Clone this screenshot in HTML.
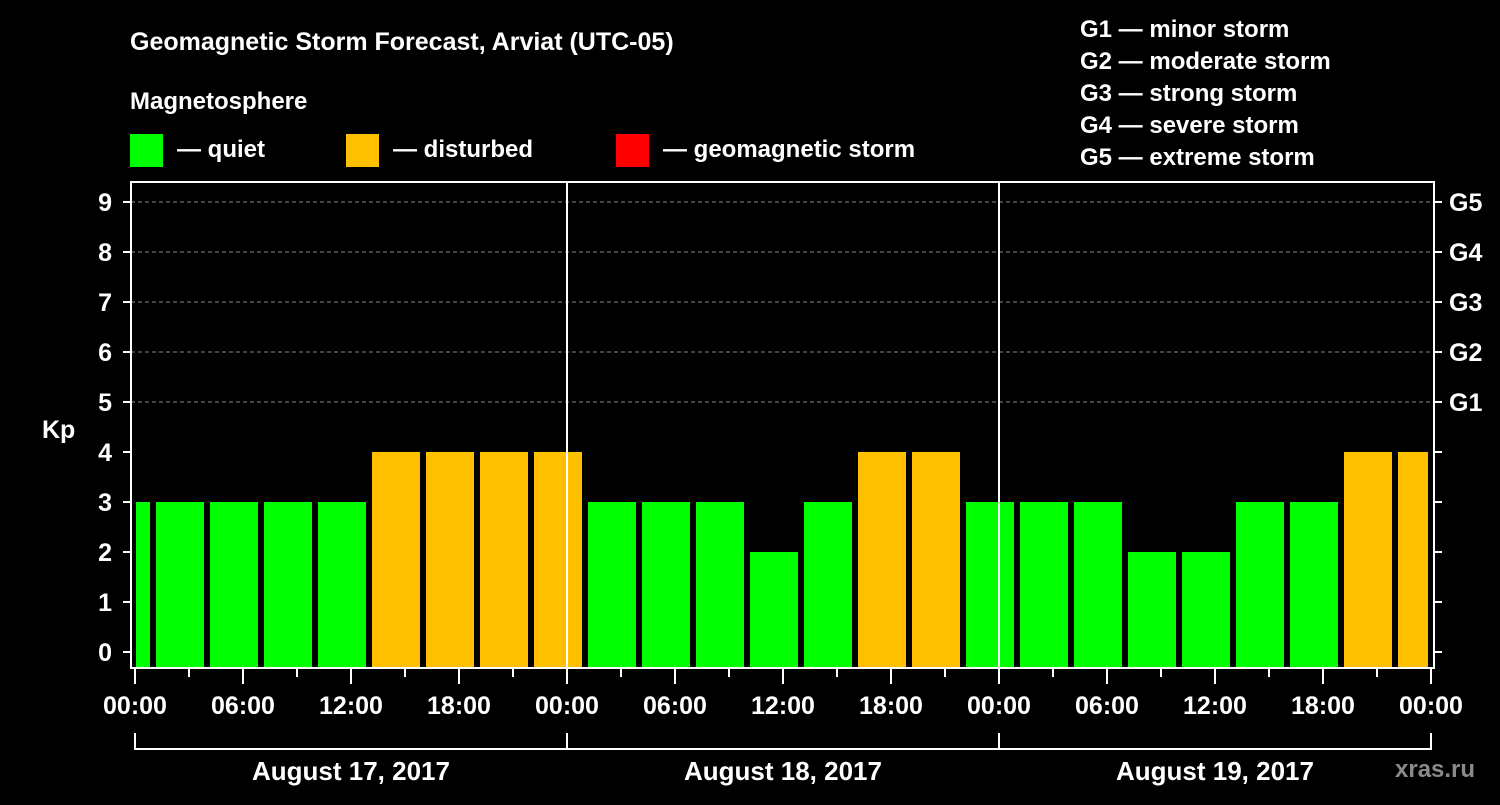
<!DOCTYPE html>
<html><head><meta charset="utf-8"><style>
html,body{margin:0;padding:0;background:#000;}
svg text{font-family:"Liberation Sans",sans-serif;font-weight:bold;fill:#fff;}
</style></head><body>
<svg width="1500" height="800" viewBox="0 0 1500 800">
<rect x="0" y="0" width="1500" height="800" fill="#000"/>
<text x="130" y="50" font-size="25">Geomagnetic Storm Forecast, Arviat (UTC-05)</text>
<text x="130" y="109" font-size="24">Magnetosphere</text>
<g><rect x="130" y="134" width="33" height="33" fill="#00ff00"/><text x="177" y="157" font-size="24">— quiet</text></g>
<g><rect x="346" y="134" width="33" height="33" fill="#ffc000"/><text x="393" y="157" font-size="24">— disturbed</text></g>
<g><rect x="616" y="134" width="33" height="33" fill="#ff0000"/><text x="663" y="157" font-size="24">— geomagnetic storm</text></g>
<g font-size="24">
<text x="1080" y="37">G1 — minor storm</text>
<text x="1080" y="69">G2 — moderate storm</text>
<text x="1080" y="101">G3 — strong storm</text>
<text x="1080" y="133">G4 — severe storm</text>
<text x="1080" y="165">G5 — extreme storm</text>
</g>
<text x="42" y="438" font-size="25">Kp</text>
<text x="1395" y="777" font-size="24" fill="#888" style="fill:#8a8a8a">xras.ru</text>
<g id="grid"></g><g id="bars"></g><g id="axes"></g>
</svg>
<script>
const kpValues=[3,3,3,3,3,4,4,4,4, 3,3,3,2,3,4,4,3, 3,3,2,2,3,3,4,4];
const dayLabels=["August 17, 2017","August 18, 2017","August 19, 2017"];
const hourLabels=["00:00","06:00","12:00","18:00"];
const gLabels=["G1","G2","G3","G4","G5"];
const NS="http://www.w3.org/2000/svg";
const X0=135,PXH=18,PL=131,PR=1434,PT=182,PB=668;
const xs=h=>X0+h*PXH, ys=k=>652-k*50;
function mk(t,a,p){const e=document.createElementNS(NS,t);for(const k in a)e.setAttribute(k,a[k]);p.appendChild(e);return e;}
const grid=document.getElementById('grid'),bars=document.getElementById('bars'),axes=document.getElementById('axes');
for(let k=5;k<=9;k++){const l=mk('line',{x1:PL,x2:PR,y1:ys(k),y2:ys(k),stroke:'#888','stroke-dasharray':'4,3','stroke-width':1},grid);

}
kpValues.forEach((v,i)=>{const hs=-2+3*i;let x1=xs(hs)+3,x2=xs(hs+3)-3;x1=Math.max(x1,136);x2=Math.min(x2,1428);
const c=v>=5?'#ff0000':(v>=4?'#ffc000':'#00ff00');
const r=mk('rect',{x:x1,y:ys(v),width:x2-x1,height:PB-ys(v),fill:c},bars);

});
for(let d=1;d<3;d++){const l=mk('line',{x1:xs(24*d),x2:xs(24*d),y1:PT,y2:PB,stroke:'#fff','stroke-width':2},axes);

}
const fr=mk('rect',{x:PL,y:PT,width:PR-PL,height:PB-PT,fill:'none',stroke:'#fff','stroke-width':2},axes);


for(let k=0;k<=9;k++){mk('line',{x1:PL-8,x2:PL,y1:ys(k),y2:ys(k),stroke:'#fff','stroke-width':2},axes);
mk('line',{x1:PR,x2:PR+8,y1:ys(k),y2:ys(k),stroke:'#fff','stroke-width':2},axes);
const t=mk('text',{x:112,y:ys(k)+9,'font-size':25,'text-anchor':'end'},axes);t.textContent=k;

}
gLabels.forEach((g,i)=>{const t=mk('text',{x:1449,y:ys(5+i)+9,'font-size':25},axes);t.textContent=g;

});
for(let h=0;h<=72;h+=3){const major=h%6===0;mk('line',{x1:xs(h),x2:xs(h),y1:PB,y2:PB+(major?16:9),stroke:'#fff','stroke-width':2},axes);
if(major){const t=mk('text',{x:xs(h),y:714,'font-size':25,'text-anchor':'middle'},axes);t.textContent=hourLabels[(h/6)%4];

}}
mk('line',{x1:xs(0),x2:xs(72),y1:749,y2:749,stroke:'#fff','stroke-width':2},axes);
for(let d=0;d<=3;d++)mk('line',{x1:xs(24*d),x2:xs(24*d),y1:733,y2:750,stroke:'#fff','stroke-width':2},axes);
dayLabels.forEach((s,d)=>{const t=mk('text',{x:xs(24*d+12),y:780,'font-size':26,'text-anchor':'middle'},axes);t.textContent=s;

});
</script>
</body></html>
